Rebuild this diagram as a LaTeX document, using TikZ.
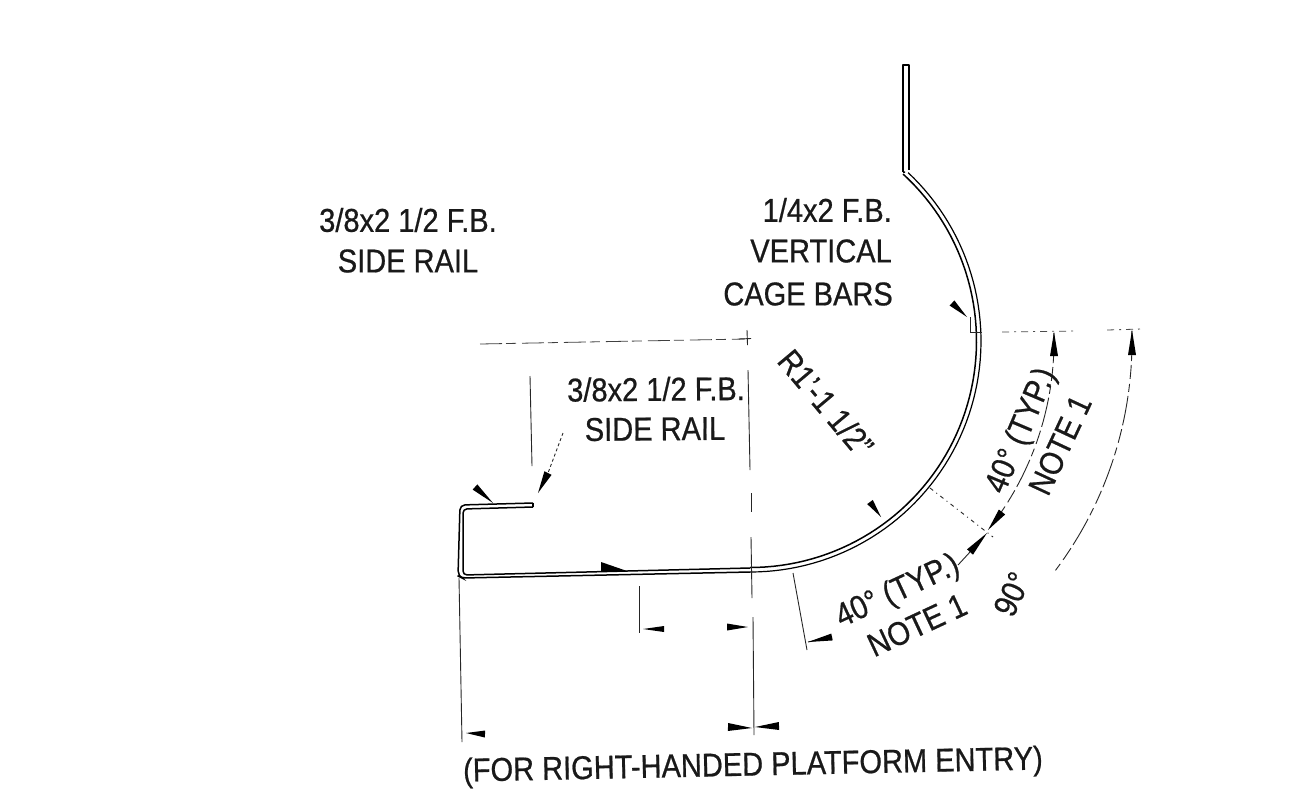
\documentclass[tikz,border=0pt]{standalone}
\usepackage{fontspec}
\setmainfont[FakeStretch=0.88,FakeBold=0.6]{Liberation Sans}
\usetikzlibrary{calc}
\tikzset{
  lbl/.style={inner sep=0pt,font=\fontsize{33}{38}\selectfont,text=black!90},
  rail/.style={line width=1.5pt,black},
  thinl/.style={line width=0.9pt,black!85},
  brk/.style={line width=0.8pt,black!75,dash pattern=on 22pt off 4pt on 10pt off 6pt},
  brkb/.style={line width=0.8pt,black!70,dash pattern=on 7pt off 5pt on 2pt off 5pt},
}
\newcommand\ahead[3]{\fill[black] (#1) -- ($(#2)!#3pt!90:(#1)$) -- ($(#2)!#3pt!-90:(#1)$) -- cycle;}
\begin{document}
\begin{tikzpicture}[x=1pt,y=-1pt]
\useasboundingbox (0,0) rectangle (1300,804);
\fill[white] (0,0) rectangle (1300,804);
% coordinates
\coordinate (C) at (750,341);
% vertical bar and curved rail
\draw[rail,line join=round] (903,172) -- (903,65) -- (909,65) -- (909,170);
\draw[rail] (903,172) -- (905,172) plot[domain=-47.5:90,samples=70] ({750+226.5*cos(\x)},{341+226.5*sin(\x)});
\draw[rail,line width=1.2pt] (909,170) plot[domain=-46.8:90,samples=70] ({750+231*cos(\x)},{341+231*sin(\x)});
% profile
\draw[rail,rounded corners=5pt] (533,503) -- (460,505) -- (458,576) -- (462,578) -- (750,572);
\draw[rail,rounded corners=4pt] (533,507) -- (463,509) -- (463,575) -- (750,568);
\draw[rail] (533,503) -- (533,507);
% centre lines
\draw[brk] (480,344) -- (745,339);
\draw[thinl] (739,339) -- (751,338.5);
\draw[thinl] (747,330) -- (747.5,345);
\draw[thinl] (748,370) -- (750,470);
\draw[thinl] (751,493) -- (751,512);
\draw[thinl] (751,537) -- (752,598);
\draw[thinl] (753,617) -- (754,735);
% extension lines
\draw[thinl] (530,376) -- (532,466);
\draw[thinl,dash pattern=on 3pt off 2.5pt] (563,433) -- (548,473);
\draw[thinl] (459,578) -- (462,742);
\draw[thinl] (639,586) -- (639,633);
\draw[thinl] (793,573) -- (807,650);
\draw[thinl] (970,317) -- (970,332) -- (982,332);
\draw[brkb] (1002,332) -- (1077,331);
\draw[brkb] (1107,330) -- (1142,329);
\draw[thinl,dash pattern=on 4pt off 4pt on 1pt off 4pt] (930,488) -- (993,537);
% dimension arcs
\draw[thinl,dash pattern=on 30pt off 4pt on 14pt off 5pt on 8pt off 4pt] plot[domain=-1.5:37,samples=40] ({750+304*cos(\x)},{341+304*sin(\x)});
\draw[thinl,dash pattern=on 30pt off 4pt on 14pt off 5pt on 8pt off 4pt] plot[domain=-1.5:37,samples=50] ({750+382*cos(\x)},{341+382*sin(\x)});
\draw[thinl] (970,552) -- (958,565);
\draw[thinl] (808,642) -- (832,637);
% arrowheads
\ahead{493,503}{475,487}{3.5}
\ahead{538,493}{548,473}{4}
\fill[black] (601,562) -- (627,571) -- (601,571) -- cycle;
\ahead{967,317}{952,303}{3.5}
\ahead{881,517}{870,502}{3.5}
\ahead{1054,332}{1054,356}{4}
\ahead{1132,330}{1132,355}{4}
\ahead{988,530}{1002,512}{4}
\ahead{987,533}{970,552}{4}
\ahead{808,642}{832,637}{3.5}
\ahead{643,629}{664,629}{3}
\ahead{748,627}{727,627}{3.5}
\ahead{466,733}{485,734}{3.5}
\ahead{752,728}{728,727}{4}
\ahead{755,727}{779,726}{4}
% labels
\node[lbl] (railA) at (408,220) {3/8x2 1/2 F.B.};
\node[lbl] (railB) at (408,261) {SIDE RAIL};
\node[lbl,anchor=east] (cageA) at (892,210) {1/4x2 F.B.};
\node[lbl,anchor=east] (cageB) at (892,251) {VERTICAL};
\node[lbl,anchor=east] (cageC) at (893,294) {CAGE BARS};
\node[lbl,rotate=0.5] (sideA) at (656,389) {3/8x2 1/2 F.B.};
\node[lbl,rotate=0.5] (sideB) at (655,429) {SIDE RAIL};
\node[lbl,rotate=-50] (radius) at (826,403) {R1'-1 1/2"};
\node[lbl,rotate=67] (angA) at (1022,431) {40° (TYP.)};
\node[lbl,rotate=65] (noteA) at (1060,445) {NOTE 1};
\node[lbl,rotate=25] (angB) at (898,592) {40° (TYP.)};
\node[lbl,rotate=25] (noteB) at (917,625) {NOTE 1};
\node[lbl,rotate=65] (ninety) at (1012,594) {90°};
\node[lbl,rotate=1.2] (entry) at (753,767) {(FOR RIGHT-HANDED PLATFORM ENTRY)};
\end{tikzpicture}
\end{document}
